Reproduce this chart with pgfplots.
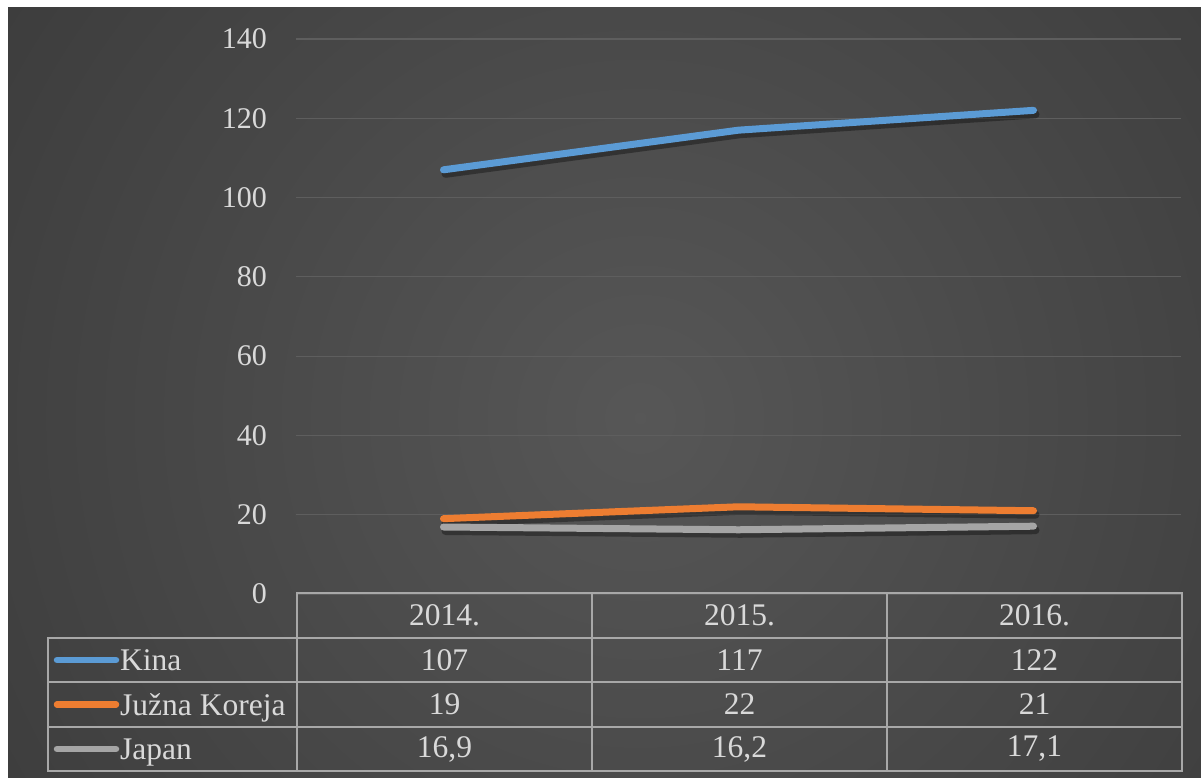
\documentclass[border=0pt]{standalone}
\usepackage{fontspec}
\setmainfont{Liberation Serif}
\usepackage{pgfplots}
\pgfplotsset{compat=1.18}
\definecolor{kina}{HTML}{5B9BD5}
\definecolor{koreja}{HTML}{ED7D31}
\definecolor{japan}{HTML}{A5A5A5}
\definecolor{txt}{HTML}{D9D9D9}
\definecolor{gridc}{HTML}{5E5E5E}
\definecolor{tabline}{HTML}{A8A8A8}
\begin{document}
\begin{tikzpicture}[x=1pt,y=1pt]
\useasboundingbox (0,0) rectangle (1201,778);
\fill[white] (0,0) rectangle (1201,778);
\begin{scope}
\clip (8,0) rectangle (1201,770);
\shade[inner color=black!66, outer color=black!86] (640,360) circle (1500);
\end{scope}
\begin{axis}[
  at={(296pt,184pt)}, anchor=south west,
  scale only axis, width=885pt, height=555pt,
  xmin=-0.5, xmax=2.5, ymin=0, ymax=140,
  xtick=\empty, ytick={0,20,...,140},
  axis line style={draw=none},
  tick style={draw=none},
  /pgf/number format/assume math mode=true,
  ymajorgrids, major grid style={gridc, line width=1.2pt},
  yticklabel style={font=\fontsize{30}{30}\selectfont, color=txt, anchor=east, inner sep=0pt, xshift=-29pt},
  clip=false,
]
\addplot[black, opacity=0.35, line width=8pt, line cap=round, line join=round, shift={(2pt,-4pt)}] coordinates {(0,107) (1,117) (2,122)};
\addplot[black, opacity=0.35, line width=8pt, line cap=round, line join=round, shift={(2pt,-4pt)}] coordinates {(0,19) (1,22) (2,21)};
\addplot[black, opacity=0.35, line width=8pt, line cap=round, line join=round, shift={(2pt,-4pt)}] coordinates {(0,16.9) (1,16.2) (2,17.1)};
\addplot[kina, line width=7pt, line cap=round, line join=round] coordinates {(0,107) (1,117) (2,122)};
\addplot[koreja, line width=7pt, line cap=round, line join=round] coordinates {(0,19) (1,22) (2,21)};
\addplot[japan, line width=7pt, line cap=round, line join=round] coordinates {(0,16.9) (1,16.2) (2,17.1)};
\end{axis}
% data table
\begin{scope}[tabline, line width=1.5pt]
\draw (297,185) rectangle (1182,7);
\draw (48,140) rectangle (297,7);
\draw (48,96) -- (1182,96);
\draw (48,51) -- (1182,51);
\draw (297,140) -- (1182,140);
\draw (592,185) -- (592,7);
\draw (887,185) -- (887,7);
\end{scope}
\begin{scope}[every node/.style={font=\fontsize{31.5}{31.5}\selectfont, text=txt, inner sep=0pt}]
\node at (444.5,162.5) {2014.};
\node at (739.5,162.5) {2015.};
\node at (1034.5,162.5) {2016.};
\node at (444.5,118) {107};
\node at (739.5,118) {117};
\node at (1034.5,118) {122};
\node at (444.5,73.5) {19};
\node at (739.5,73.5) {22};
\node at (1034.5,73.5) {21};
\node at (444.5,29) {16,9};
\node at (739.5,29) {16,2};
\node at (1034.5,29) {17,1};
\draw[kina, line width=6.5pt, line cap=round] (57,118) -- (116,118);
\draw[koreja, line width=6.5pt, line cap=round] (57,73.5) -- (116,73.5);
\draw[japan, line width=6.5pt, line cap=round] (57,29) -- (116,29);
\node[anchor=base west] at (120,107) {Kina};
\node[anchor=base west] at (120,62.5) {Južna Koreja};
\node[anchor=base west] at (120,18) {Japan};
\end{scope}
\end{tikzpicture}
\end{document}
